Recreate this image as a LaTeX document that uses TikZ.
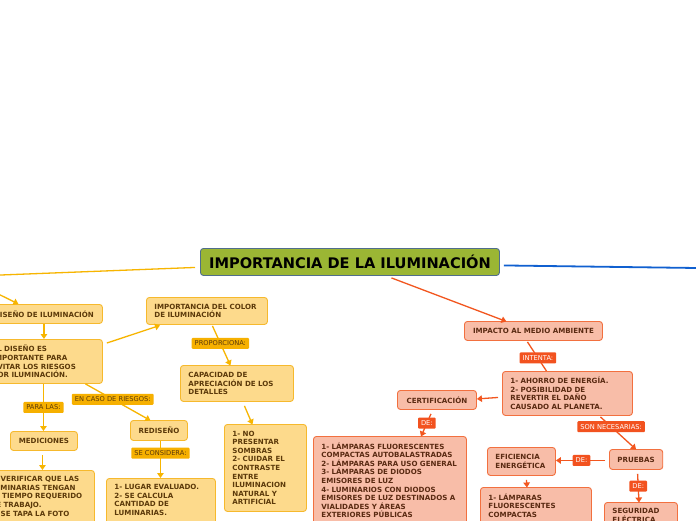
\documentclass[tikz,border=0pt]{standalone}
\usepackage{fontspec}
\setmainfont{DejaVu Sans}
\usetikzlibrary{arrows.meta,calc}
\definecolor{ofill}{RGB}{253,218,140}
\definecolor{odraw}{RGB}{246,185,45}
\definecolor{otext}{RGB}{92,58,10}
\definecolor{olab}{RGB}{246,176,0}
\definecolor{oline}{RGB}{247,181,0}
\definecolor{rfill}{RGB}{248,189,168}
\definecolor{rdraw}{RGB}{242,112,63}
\definecolor{rtext}{RGB}{90,42,18}
\definecolor{rlab}{RGB}{242,82,31}
\definecolor{rline}{RGB}{242,86,31}
\definecolor{tfill}{RGB}{155,182,52}
\definecolor{tdraw}{RGB}{80,110,140}
\definecolor{bline}{RGB}{16,96,208}
\tikzset{
 mmbase/.style={rounded corners=3pt, line width=0.9pt, inner xsep=8pt, inner ysep=2pt, anchor=north west, font=\fontsize{7.1}{8.6}\selectfont\bfseries},
 onode/.style={mmbase, fill=ofill, draw=odraw, text=otext},
 rnode/.style={mmbase, fill=rfill, draw=rdraw, text=rtext},
 blk/.style={align=left, text width=#1},
 open/.style={inner ysep=6pt, text depth=#1},
 titlenode/.style={rounded corners=3pt, line width=0.9pt, fill=tfill, draw=tdraw, text=black, anchor=north west, minimum width=299pt, minimum height=27pt, font=\fontsize{14.6}{16}\selectfont\bfseries},
 olbl/.style={fill=olab, text=otext, rounded corners=1pt, inner xsep=3pt, inner ysep=1.5pt, minimum height=11pt, font=\fontsize{6.7}{7}\selectfont},
 rlbl/.style={fill=rlab, text=white, rounded corners=1pt, inner xsep=3pt, inner ysep=1.5pt, minimum height=11pt, font=\fontsize{6.7}{7}\selectfont},
 oconn/.style={draw=oline, line width=1.3pt, -{Triangle[length=5pt,width=6.5pt]}},
 rconn/.style={draw=rline, line width=1.3pt, -{Triangle[length=5pt,width=6.5pt]}},
}
\begin{document}
\begin{tikzpicture}[x=1pt,y=-1pt]
\useasboundingbox (0,0) rectangle (696,520);
\fill[white] (0,0) rectangle (696,520);
\clip (0,0) rectangle (696,520);

% title
\node[titlenode] (title) at (200,248) {IMPORTANCIA DE LA ILUMINACIÓN};

% orange branch
\node[onode, minimum width=117pt, minimum height=19pt] (dis) at (-15,304) {DISEÑO DE ILUMINACIÓN};
\node[onode, blk=102pt, minimum height=44pt] (el) at (-16,339) {EL DISEÑO ES\\IMPORTANTE PARA\\EVITAR LOS RIESGOS\\POR ILUMINACIÓN.};
\node[onode, blk=105pt, minimum height=27pt] (color) at (146,297) {IMPORTANCIA DEL COLOR\\DE ILUMINACIÓN};
\node[onode, blk=97pt, minimum height=36pt] (cap) at (180,365) {CAPACIDAD DE\\APRECIACIÓN DE LOS\\DETALLES};
\node[onode, blk=66pt, minimum height=87pt] (nopres) at (224,424) {1- NO\\PRESENTAR\\SOMBRAS\\2- CUIDAR EL\\CONTRASTE\\ENTRE\\ILUMINACION\\NATURAL Y\\ARTIFICIAL};
\node[onode, minimum width=57pt, minimum height=20pt] (redis) at (130,420) {REDISEÑO};
\node[onode, blk=93pt, open=45pt] (lugar) at (106,478) {1- LUGAR EVALUADO.\\2- SE CALCULA\\CANTIDAD DE\\LUMINARIAS.};
\node[onode, minimum width=67pt, minimum height=19pt] (med) at (10,431) {MEDICIONES};
\node[onode, blk=96pt, open=50pt] (verif) at (-18,470) {1- VERIFICAR QUE LAS\\LUMINARIAS TENGAN\\EL TIEMPO REQUERIDO\\DE TRABAJO.\\2- SE TAPA LA FOTO};

% red branch
\node[rnode, minimum width=138pt, minimum height=19pt] (imp) at (464,321) {IMPACTO AL MEDIO AMBIENTE};
\node[rnode, blk=114pt, minimum height=44pt] (ahorro) at (502,371) {1- AHORRO DE ENERGÍA.\\2- POSIBILIDAD DE\\REVERTIR EL DAÑO\\CAUSADO AL PLANETA.};
\node[rnode, minimum width=79pt, minimum height=19pt] (cert) at (397,390) {CERTIFICACIÓN};
\node[rnode, blk=137pt, open=85pt] (lamp) at (313,436) {1- LÁMPARAS FLUORESCENTES\\COMPACTAS AUTOBALASTRADAS\\2- LÁMPARAS PARA USO GENERAL\\3- LÁMPARAS DE DIODOS\\EMISORES DE LUZ\\4- LUMINARIOS CON DIODOS\\EMISORES DE LUZ DESTINADOS A\\VIALIDADES Y ÁREAS\\EXTERIORES PÚBLICAS};
\node[rnode, blk=52pt, minimum height=28pt] (efic) at (487,447) {EFICIENCIA\\ENERGÉTICA};
\node[rnode, minimum width=53pt, minimum height=20pt] (pru) at (609,449) {PRUEBAS};
\node[rnode, blk=95pt, open=40pt] (lamp2) at (480,487) {1- LÁMPARAS\\FLUORESCENTES\\COMPACTAS};
\node[rnode, blk=57pt, open=30pt] (seg) at (604,502) {SEGURIDAD\\ELÉCTRICA};

% off-page coordinates
\coordinate (offL) at (-30,276.2);
\coordinate (offA) at (-30,280);
\coordinate (offR) at (720,268.3);

% connectors
\draw[draw=oline, line width=1.3pt] ($(title.west)+(-5,5.5)$) -- (offL);
\draw[oconn] (offA) -- ($(dis.north)+(-25.5,0)$);
\draw[oconn] ($(dis.south)+(0,0.5)$) -- (dis.south |- el.north);
\draw[oconn] ($(el.north east)+(4,4)$) -- ($(color.south west)+(14,0.5)$);
\draw[oconn] ($(el.south)+(42,0)$) -- node[olbl, pos=0.42] {EN CASO DE RIESGOS:} ($(redis.north)+(-8.5,0.5)$);
\draw[oconn] (el.south) -- node[olbl, pos=0.5] {PARA LAS:} (el.south |- med.north);
\draw[oconn] ($(med.south)+(-1.5,4)$) -- ($(med.south |- verif.north)+(-1.5,0)$);
\draw[oconn] ($(redis.south)+(1.5,0)$) -- node[olbl, pos=0.33] {SE CONSIDERA:} ($(redis.south |- lugar.north)+(1.5,0)$);
\draw[oconn] ($(color.south)+(5.5,1)$) -- node[olbl, pos=0.44] {PROPORCIONA:} ($(cap.north)+(-6.5,0.5)$);
\draw[oconn] ($(cap.south)+(7.5,4)$) -- ($(nopres.north)+(-13,0.5)$);

\draw[rconn] ($(title.south)+(41.5,2)$) -- ($(imp.north)+(-27,0.5)$);
\draw[draw=bline, line width=1.8pt] ($(title.east)+(4,3.5)$) -- (offR);
\draw[draw=rline, line width=1.3pt] ($(imp.south)+(-6,1)$) -- node[rlbl, pos=0.55] {INTENTA:} ($(ahorro.north)+(-21,0)$);
\draw[rconn] ($(ahorro.west)+(-4,4)$) -- ($(cert.east)+(0,-1)$);
\draw[rconn] ($(cert.south)+(-6,4)$) -- node[rlbl, pos=0.41] {DE:} ($(lamp.north west)+(108,0.5)$);
\draw[rconn] ($(ahorro.south)+(33,1)$) -- node[rlbl, pos=0.3] {SON NECESARIAS:} ($(pru.north)+(0,0.5)$);
\draw[rconn] ($(pru.west)+(-4,1)$) -- node[rlbl, pos=0.48] {DE:} ($(efic.east)+(0,-1)$);
\draw[rconn] ($(efic.south)+(5,4)$) -- ($(lamp2.north west)+(47,0.5)$);
\draw[rconn] ($(pru.south)+(1.5,4)$) -- node[rlbl, pos=0.43] {DE:} ($(seg.north west)+(35,0.5)$);
\end{tikzpicture}
\end{document}
